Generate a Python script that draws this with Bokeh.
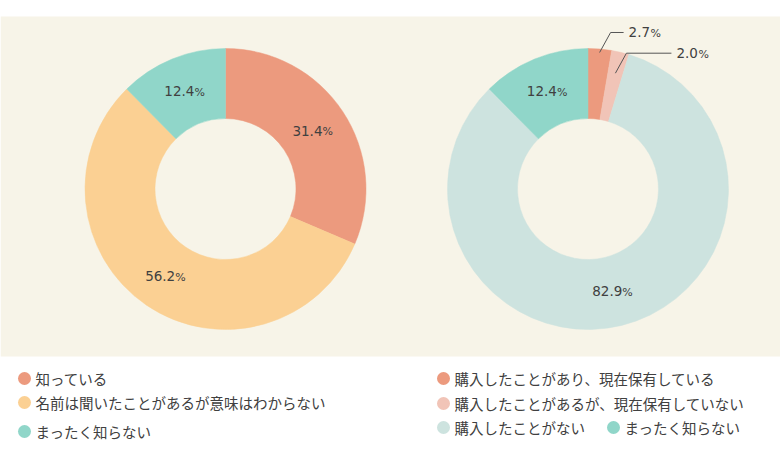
import numpy as np
from bokeh.plotting import figure
from bokeh.models import Range1d, ColumnDataSource
from bokeh.embed import file_html
from bokeh.resources import INLINE
from bokeh.core.properties import value

# ---------------- data ----------------
left_categories = ["知っている", "名前は聞いたことがあるが意味はわからない", "まったく知らない"]
left_values = [31.4, 56.2, 12.4]
left_colors = ["#EC9A7E", "#FBD093", "#90D6C9"]

right_categories = ["購入したことがあり、現在保有している", "購入したことがあるが、現在保有していない",
                    "購入したことがない", "まったく知らない"]
right_values = [2.7, 2.0, 82.9, 12.4]
right_colors = ["#EC9A7E", "#F1C4B7", "#CDE3DF", "#90D6C9"]

# ---------------- layout ----------------
W, H = 780, 470
def Y(px):
    return H - px

BG = "#F7F4E8"
TEXT = "#404040"
NUM_FONT = value("DejaVu Sans")
JP_FONT = value("Noto Sans CJK JP")

R_OUT, R_IN = 140.5, 70.5
left_center = (225.0, Y(188.5))
right_center = (587.5, Y(188.5))

p = figure(width=W, height=H, x_range=Range1d(0, W), y_range=Range1d(0, H),
           output_backend="svg", toolbar_location=None, min_border=0,
           background_fill_color="white", border_fill_color="white")
p.axis.visible = False
p.grid.visible = False
p.outline_line_color = None

# beige panel
p.quad(left=[0], right=[W], bottom=[Y(356)], top=[Y(16)], fill_color=BG, line_color=None)


def donut(center, values, colors):
    vals = np.array(values, dtype=float)
    frac = vals / vals.sum()
    cum_end = np.cumsum(frac)
    cum_start = cum_end - frac
    start = np.pi / 2 - 2 * np.pi * cum_end
    end = np.pi / 2 - 2 * np.pi * cum_start
    src = ColumnDataSource(dict(x=[center[0]] * len(vals), y=[center[1]] * len(vals),
                                start=start, end=end, color=colors))
    p.annular_wedge(x="x", y="y", inner_radius=R_IN, outer_radius=R_OUT,
                    start_angle="start", end_angle="end", fill_color="color",
                    line_color="color", line_width=0.5, source=src)
    mid = 2 * np.pi * (cum_start + cum_end) / 2  # clockwise from top
    return vals, mid


def pct_label(x, y, num, align="center"):
    # number + smaller percent sign
    if align == "center":
        p.text(x=[x], y=[y], text=[num], text_align="right", text_baseline="middle",
               x_offset=9, text_font=NUM_FONT, text_font_size="13.5px", text_color=TEXT)
        p.text(x=[x], y=[y], text=["%"], text_align="left", text_baseline="middle",
               x_offset=9, y_offset=1, text_font=NUM_FONT, text_font_size="11px", text_color=TEXT)
    else:
        p.text(x=[x], y=[y], text=[num], text_align="left", text_baseline="middle",
               text_font=NUM_FONT, text_font_size="13.5px", text_color=TEXT)
        p.text(x=[x], y=[y], text=["%"], text_align="left", text_baseline="middle",
               x_offset=22, y_offset=1, text_font=NUM_FONT, text_font_size="11px", text_color=TEXT)


R_LAB = (R_IN + R_OUT) / 2

# left donut
vals, mid = donut(left_center, left_values, left_colors)
for v, a in zip(vals, mid):
    x = left_center[0] + R_LAB * np.sin(a)
    y = left_center[1] + R_LAB * np.cos(a)
    pct_label(x, y, f"{v:.1f}")

# right donut
vals, mid = donut(right_center, right_values, right_colors)
leader_start_r = [137, 119]
leader_len = [13, 45]
small_i = 0
for v, a in zip(vals, mid):
    if v >= 5:
        x = right_center[0] + R_LAB * np.sin(a)
        y = right_center[1] + R_LAB * np.cos(a)
        pct_label(x, y, f"{v:.1f}")
    else:
        r = leader_start_r[small_i]
        sx = right_center[0] + r * np.sin(a)
        sy = right_center[1] + r * np.cos(a)
        ex, ey = sx + 11, sy + 20
        fx = ex + leader_len[small_i]
        p.line(x=[sx, ex, fx], y=[sy, ey, ey], line_color="#555555", line_width=1)
        pct_label(fx + 5, ey, f"{v:.1f}", align="left")
        small_i += 1

# ---------------- legends ----------------
left_leg_x = [24, 24, 24]
left_leg_y = [378, 402, 431]
right_leg_x = [443, 443, 443, 613]
right_leg_y = [378, 403, 427, 427]


def legend(xs, ys, labels, colors):
    src = ColumnDataSource(dict(x=xs, y=[Y(v) for v in ys], tx=[v + 11 for v in xs],
                                label=labels, color=colors))
    p.scatter(x="x", y="y", size=13, fill_color="color", line_color=None, source=src)
    p.text(x="tx", y="y", text="label", text_align="left", text_baseline="middle",
           text_font=JP_FONT, text_font_size="14.5px", text_color=TEXT, source=src)


legend(left_leg_x, left_leg_y, left_categories, left_colors)
legend(right_leg_x, right_leg_y, right_categories, right_colors)

open("out.html", "w").write(file_html(p, INLINE))
